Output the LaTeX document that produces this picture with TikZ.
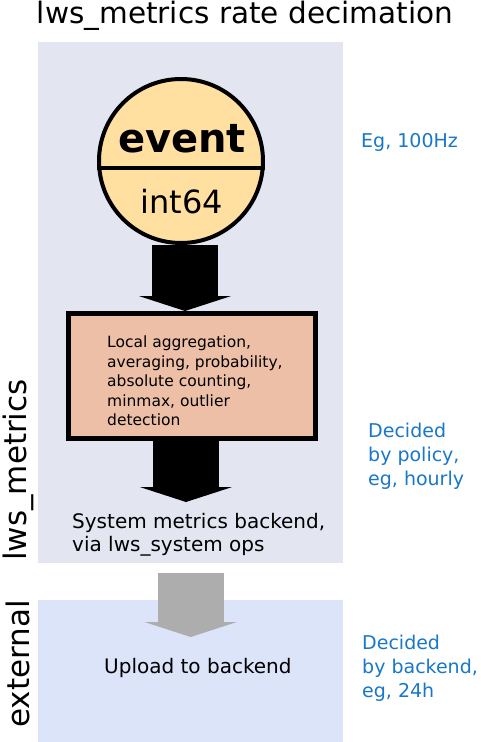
\documentclass[tikz,border=0pt]{standalone}
\usepackage{fontspec}
\setmainfont{DejaVu Sans}
\usetikzlibrary{arrows.meta}
\definecolor{metricsbg}{HTML}{E3E5F1}
\definecolor{externalbg}{HTML}{DCE4FA}
\definecolor{eventfill}{HTML}{FFE0A0}
\definecolor{aggfill}{HTML}{EDBFA6}
\definecolor{uploadgray}{HTML}{ADADAD}
\definecolor{noteblue}{HTML}{1877C9}

\begin{document}
\begin{tikzpicture}[x=1pt,y=-1pt,
	panel/.style={anchor=north west, inner sep=0pt, minimum width=305pt},
	fatarrow/.style={line width=66pt, -{Triangle[width=92pt,length=15pt]}},
	note/.style={anchor=base west, inner sep=0pt, align=left, text=noteblue,
		font=\fontsize{19}{24}\selectfont},
	lane/.style={rotate=90, inner sep=0pt, font=\fontsize{31}{36}\selectfont}]
	\useasboundingbox (0,0) rectangle (480,742);

	% panels
	\draw (38,42) node [panel, fill=metricsbg, minimum height=521pt] (metrics) {};
	\draw (38,600) node [panel, fill=externalbg, minimum height=142pt] (external) {};

	\draw (245,23) node [anchor=base, inner sep=0pt, font=\fontsize{29.5}{34}\selectfont] (title) {lws\_metrics rate decimation};
	\draw (18,470) node [lane] (metricslane) {lws\_metrics};
	\draw (18,664) node [lane] (externallane) {external};

	% event
	\draw (181,161) node [circle, draw, line width=4pt, fill=eventfill, minimum size=164pt] (ev) {};
	\draw [line width=4pt] ([yshift=-7pt]ev.west) -- ([yshift=-7pt]ev.east);
	\draw (182,152) node [anchor=base, inner sep=0pt, font=\fontsize{40}{44}\bfseries] (evname) {event};
	\draw (182,213) node [anchor=base, inner sep=0pt, font=\fontsize{32}{36}\selectfont] (evtype) {int64};

	% aggregation
	\draw (192,376) node [draw, line width=5pt, fill=aggfill, minimum width=247pt, minimum height=125pt] (agg) {};
	\draw (107,336) node [anchor=north west, inner sep=0pt, align=left, font=\fontsize{15.5}{19.5}\selectfont] (aggtext)
		{Local aggregation,\\averaging, probability,\\absolute counting,\\minmax, outlier\\detection};

	\coordinate (sysend) at (186,502);
	\draw (72,551.5) node [anchor=base west, inner sep=0pt, align=left, font=\fontsize{20}{23.5}\selectfont] (system)
		{System metrics backend,\\via lws\_system ops};

	\draw (104,673) node [anchor=base west, inner sep=0pt, font=\fontsize{20}{23}\selectfont] (upload) {Upload to backend};

	\draw[fatarrow] ([xshift=4pt]ev.south) -- ([xshift=4pt]ev.south |- agg.north);
	\draw[fatarrow] (agg.south -| sysend) -- (sysend);
	\draw[fatarrow, uploadgray] ([yshift=-10pt]metrics.south) -- ([yshift=-37pt]external.north);

	% notes
	\draw (361,147) node [note] (rate) {Eg, 100Hz};
	\draw (368,485) node [note] (policy) {Decided\\by policy,\\eg, hourly};
	\draw (362,697) node [note] (backend) {Decided\\by backend,\\eg, 24h};
\end{tikzpicture}
\end{document}
